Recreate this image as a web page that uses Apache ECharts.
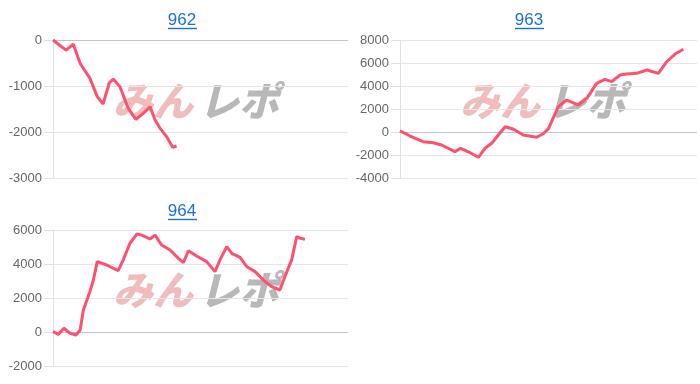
<!DOCTYPE html>
<html>
<head>
<meta charset="utf-8">
<script src="https://cdn.jsdelivr.net/npm/echarts@6/dist/echarts.min.js"></script>
<style>
html,body{margin:0;padding:0;background:#fff;}
#chart{width:700px;height:384px;}
</style>
</head>
<body>
<div id="chart"></div>
<script>
// Titles
var titles = ['962', '963', '964'];

// Series: x = progress (0-100 of axis), y = diff
var x962 = [0, 4.4, 6.9, 9.2, 12.5, 15, 17, 19.1, 20.4, 22.7, 25.5, 28.1, 30.6, 32.9, 34.6, 36.3, 38.5, 40.6, 41.9];
var y962 = [0, -220, -90, -510, -830, -1230, -1390, -930, -850, -1015, -1485, -1725, -1595, -1450, -1740, -1920, -2100, -2335, -2305];

var x963 = [0, 3.4, 7.8, 11.2, 14, 18.5, 20.4, 23.6, 26.4, 28.6, 30.9, 33.1, 35.4, 38.1, 41.5, 46, 48.2, 50, 53.3, 56.1, 60, 62.9, 66.2, 69, 71.3, 74.1, 76.3, 79.7, 83.1, 87, 89.8, 92.6, 95.4];
var y963 = [100, -350, -840, -930, -1130, -1710, -1420, -1800, -2200, -1420, -980, -260, 460, 260, -260, -460, -150, 300, 2200, 2780, 2350, 2930, 4230, 4580, 4380, 4960, 5040, 5100, 5390, 5100, 6110, 6780, 7190];

var x964 = [0, 1.8, 3.7, 5.8, 7.8, 9.2, 10.3, 12.5, 13.7, 15, 18.2, 22.1, 23.8, 26.1, 28.4, 30.1, 32.9, 34.6, 36.8, 39.7, 42.5, 44.2, 45.9, 48.7, 52.1, 54.9, 56.6, 58.9, 60.6, 63.4, 65.7, 68.5, 71.3, 74.1, 76.9, 78.6, 80.9, 82.6, 84, 85.4];
var y964 = [20, -140, 220, -80, -180, 120, 1290, 2370, 3060, 4140, 3940, 3610, 4240, 5220, 5760, 5700, 5470, 5700, 5120, 4820, 4330, 4080, 4780, 4470, 4140, 3550, 4240, 5020, 4630, 4390, 3840, 3550, 3060, 2670, 2470, 3250, 4240, 5610, 5510, 5450];

var yMin = [-3000, -4000, -2000];
var yMax = [0, 8000, 6000];
var yStep = [1000, 2000, 2000];

function pairs(xs, ys) { return xs.map(function (x, i) { return [x, ys[i]]; }); }
var seriesData = [pairs(x962, y962), pairs(x963, y963), pairs(x964, y964)];

var grids = [
  {left: 53, top: 40, width: 295, height: 138},
  {left: 400, top: 40, width: 297, height: 138},
  {left: 53, top: 230, width: 295, height: 136}
];
var titlePos = [[182, 20, 168, 197, 28.5], [529, 20, 515, 544, 28.5], [182, 211, 168, 197, 219.5]];
var wmPos = [[113, 101], [460, 101], [113, 290]];

var chart = echarts.init(document.getElementById('chart'), null, {renderer: 'canvas'});
var graphic = [];
titles.forEach(function (t, i) {
  var p = titlePos[i];
  graphic.push({type: 'text', x: p[0], y: p[1], z: 10, style: {text: t, fill: '#1a6fdc', font: '17px "Liberation Sans", Arial, sans-serif', textAlign: 'center', textVerticalAlign: 'middle'}});
  graphic.push({type: 'line', z: 10, shape: {x1: p[2], y1: p[4], x2: p[3], y2: p[4]}, style: {stroke: '#1a6fdc', lineWidth: 1.4}});
  var w = wmPos[i];
  graphic.push({type: 'text', x: w[0], y: w[1], z: -1, style: {text: 'みん', fill: '#f0bcbc', font: 'italic 900 40px "Noto Sans CJK JP", sans-serif', textVerticalAlign: 'middle'}});
  graphic.push({type: 'text', x: w[0] + 86, y: w[1], z: -1, style: {text: 'レポ', fill: '#b8b8b8', font: 'italic 900 40px "Noto Sans CJK JP", sans-serif', textVerticalAlign: 'middle'}});
});

var option = {
  animation: false,
  backgroundColor: '#fff',
  grid: grids,
  graphic: graphic,
  xAxis: grids.map(function (g, i) {
    return {type: 'value', gridIndex: i, min: 0, max: 100, axisLabel: {show: false}, axisTick: {show: false}, splitLine: {show: false}, axisLine: {show: false}};
  }),
  yAxis: grids.map(function (g, i) {
    return {
      type: 'value', gridIndex: i, min: yMin[i], max: yMax[i], interval: yStep[i],
      axisLine: {show: true, lineStyle: {color: '#e0e0e0'}},
      axisTick: {show: true, length: 9, lineStyle: {color: '#e0e0e0'}},
      axisLabel: {color: '#666', fontSize: 13, margin: 11, fontFamily: '"Liberation Sans", Arial, sans-serif', formatter: function (v) { return String(v); }},
      splitLine: {show: true, lineStyle: {color: '#e6e6e6'}}
    };
  }),
  series: seriesData.map(function (d, i) {
    return {
      type: 'line', xAxisIndex: i, yAxisIndex: i, data: d, showSymbol: false, z: 5,
      lineStyle: {color: 'rgb(255,80,110)', width: 3}, itemStyle: {color: 'rgb(255,80,110)'},
      markLine: {silent: true, symbol: 'none', label: {show: false}, lineStyle: {color: '#c4c4c4', type: 'solid', width: 1}, data: [{yAxis: 0}], z: 1}
    };
  })
};
chart.setOption(option);
</script>
</body>
</html>
